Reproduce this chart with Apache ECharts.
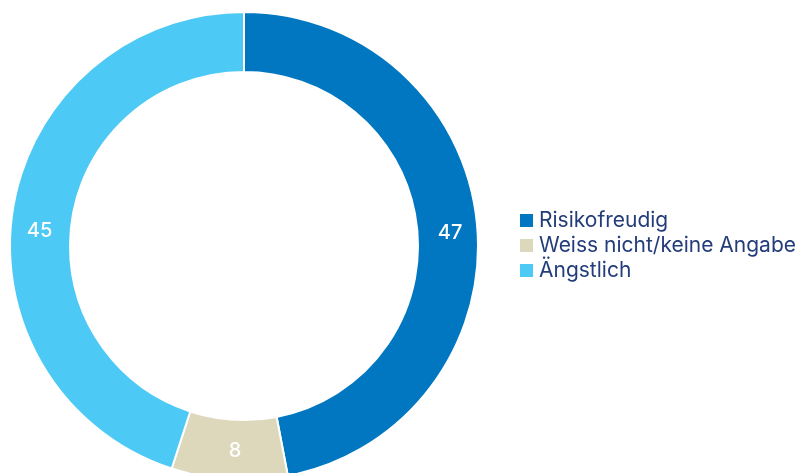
<!DOCTYPE html>
<html>
<head>
<meta charset="utf-8">
<script src="https://cdn.jsdelivr.net/npm/echarts@6/dist/echarts.min.js"></script>
<style>
  html, body { margin: 0; padding: 0; background: #fff; }
  #chart { width: 810px; height: 473px; }
</style>
</head>
<body>
<div id="chart"></div>
<script>
// data
const categories = ["Risikofreudig", "Weiss nicht/keine Angabe", "Ängstlich"];
const values = [47, 8, 45];
const colors = ["#0077c0", "#ddd8bb", "#4dc9f5"];
// small nudges so the labels sit where the original put them
const labelOffsets = [[0, 6], [4, -2], [0, 17]];

const chart = echarts.init(document.getElementById("chart"));

chart.setOption({
  animation: false,
  color: colors,
  legend: {
    orient: "vertical",
    left: 513,
    top: 205,
    icon: "rect",
    itemWidth: 15,
    itemHeight: 15,
    itemGap: 4,
    textStyle: {
      color: "#233c7a",
      fontSize: 21,
      lineHeight: 21,
      fontFamily: "Inter, sans-serif"
    },
    data: categories
  },
  series: [
    {
      type: "pie",
      center: [244, 246],
      radius: [174, 234],
      startAngle: 90,
      clockwise: true,
      itemStyle: { borderColor: "#fff", borderWidth: 2 },
      label: {
        show: true,
        position: "inside",
        color: "#fff",
        fontSize: 20,
        fontWeight: 500,
        fontFamily: "Inter, sans-serif",
        formatter: "{c}"
      },
      labelLine: { show: false },
      data: categories.map((name, i) => ({
        name: name,
        value: values[i],
        label: { offset: labelOffsets[i] }
      }))
    }
  ]
});
</script>
</body>
</html>
